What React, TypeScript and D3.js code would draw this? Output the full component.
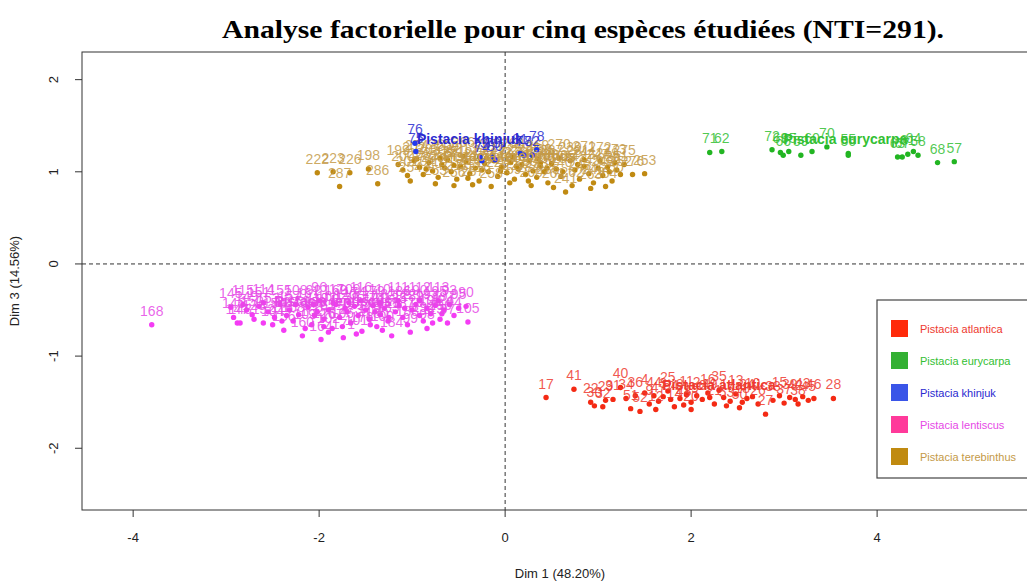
import React from 'react';
import * as d3 from 'd3';

type P = [number, number, number]; // [label, dim1, dim3]

const titleText = 'Analyse factorielle pour cinq espèces étudiées (NTI=291).';
const xTitle = 'Dim 1 (48.20%)';
const yTitle = 'Dim 3 (14.56%)';
const xTicks = [-4, -2, 0, 2, 4];
const yTicks = [-2, -1, 0, 1, 2];
const xDomain = [-4.55, 5.73];
const yDomain = [-2.67, 2.3];

const speciesNames = ['Pistacia atlantica', 'Pistacia eurycarpa', 'Pistacia khinjuk', 'Pistacia lentiscus', 'Pistacia terebinthus'];
const centroids: [number, number][] = [[2.3, -1.47], [3.66, 1.2], [-0.38, 1.2], [-1.85, -0.55], [0.05, 1.02]];

const atlantica: P[] = [
  [17, 0.44, -1.45], [41, 0.74, -1.36], [22, 0.92, -1.5], [30, 0.96, -1.54], [29, 1.08, -1.48], [31, 1.16, -1.47],
  [34, 1.3, -1.46], [36, 1.4, -1.43], [40, 1.24, -1.34], [4, 1.5, -1.4], [9, 1.55, -1.52], [12, 1.62, -1.58],
  [3, 1.7, -1.44], [25, 1.75, -1.38], [14, 1.82, -1.55], [8, 1.88, -1.46], [11, 1.95, -1.42], [19, 2.0, -1.5],
  [2, 2.06, -1.43], [35, 2.3, -1.37], [6, 2.12, -1.47], [16, 2.18, -1.4], [21, 2.25, -1.52], [1, 2.35, -1.45],
  [7, 2.42, -1.49], [13, 2.48, -1.41], [18, 2.55, -1.5], [24, 2.6, -1.46], [10, 2.66, -1.44], [27, 2.8, -1.63],
  [26, 2.72, -1.52], [33, 2.88, -1.48], [15, 2.95, -1.43], [37, 3.0, -1.51], [39, 3.06, -1.45], [42, 3.12, -1.47],
  [43, 3.2, -1.44], [45, 3.26, -1.48], [46, 3.32, -1.46], [28, 3.53, -1.46], [47, 1.65, -1.49], [48, 1.92, -1.53],
  [49, 2.2, -1.45], [50, 2.52, -1.56], [51, 1.35, -1.57], [52, 1.45, -1.6], [53, 2.38, -1.54], [54, 1.78, -1.47],
  [32, 1.05, -1.55], [38, 3.15, -1.52], [20, 2.0, -1.58], [44, 1.6, -1.43],
];

const eurycarpa: P[] = [
  [71, 2.2, 1.21], [62, 2.33, 1.22], [72, 2.87, 1.24], [69, 2.96, 1.21], [66, 2.99, 1.18], [65, 3.05, 1.22],
  [59, 3.18, 1.18], [60, 3.3, 1.22], [70, 3.46, 1.27], [55, 3.69, 1.2], [56, 3.69, 1.18], [63, 4.22, 1.16],
  [67, 4.27, 1.16], [61, 4.33, 1.19], [64, 4.39, 1.22], [58, 4.44, 1.18], [68, 4.65, 1.1], [57, 4.83, 1.11],
];

const khinjuk: P[] = [
  [76, -0.97, 1.31], [75, -0.96, 1.22], [73, -0.27, 1.16], [74, -0.25, 1.12], [79, -0.13, 1.16], [80, -0.11, 1.13],
  [81, 0.16, 1.2], [77, 0.2, 1.18], [82, 0.29, 1.18], [78, 0.34, 1.24],
];

const lentiscus: P[] = [
  [168, -3.8, -0.66], [145, -2.95, -0.47], [146, -2.92, -0.58], [147, -2.88, -0.64], [148, -2.85, -0.64],
  [149, -2.78, -0.5], [150, -2.72, -0.55], [151, -2.65, -0.46], [152, -2.6, -0.64], [153, -2.55, -0.52],
  [154, -2.48, -0.58], [155, -2.42, -0.44], [156, -2.38, -0.72], [157, -2.32, -0.5], [158, -2.28, -0.62],
  [159, -2.22, -0.55], [160, -2.18, -0.78], [161, -2.12, -0.47], [162, -2.08, -0.66], [163, -2.05, -0.56],
  [96, -2.0, -0.4], [92, -2.06, -0.44], [164, -1.98, -0.82], [165, -1.95, -0.6], [166, -1.9, -0.5],
  [167, -1.86, -0.7], [169, -1.82, -0.44], [170, -1.78, -0.58], [171, -1.74, -0.8], [172, -1.7, -0.52],
  [173, -1.66, -0.64], [174, -1.62, -0.46], [175, -1.58, -0.56], [176, -1.54, -0.73], [177, -1.5, -0.5],
  [178, -1.46, -0.6], [179, -1.42, -0.45], [180, -1.38, -0.68], [181, -1.34, -0.55], [182, -1.3, -0.48],
  [183, -1.26, -0.62], [184, -1.22, -0.78], [185, -1.18, -0.52], [186, -1.14, -0.45], [187, -1.1, -0.58],
  [188, -1.05, -0.66], [189, -1.0, -0.5], [190, -0.96, -0.44], [191, -0.92, -0.56], [192, -0.88, -0.62],
  [193, -0.84, -0.48], [194, -0.8, -0.54], [195, -0.75, -0.45], [196, -0.7, -0.6], [197, -0.66, -0.5],
  [93, -0.6, -0.44], [94, -0.55, -0.56], [95, -0.5, -0.48], [90, -0.42, -0.46], [105, -0.4, -0.63],
  [97, -0.62, -0.64], [98, -0.84, -0.7], [99, -1.02, -0.74], [100, -1.32, -0.72], [101, -1.6, -0.76],
  [102, -1.9, -0.74], [103, -2.15, -0.7], [104, -2.5, -0.66], [106, -1.75, -0.68], [107, -1.45, -0.66],
  [108, -2.25, -0.44], [109, -1.68, -0.42], [110, -1.35, -0.42], [111, -1.15, -0.4], [112, -0.92, -0.4],
  [113, -0.72, -0.4], [114, -2.6, -0.42], [115, -2.82, -0.44], [116, -1.55, -0.4], [117, -1.85, -0.42],
  [118, -2.4, -0.62], [119, -2.02, -0.52], [120, -1.72, -0.48], [121, -1.4, -0.52], [122, -1.08, -0.48],
  [123, -0.78, -0.64], [124, -0.68, -0.54], [125, -1.25, -0.58], [126, -1.95, -0.68], [127, -2.35, -0.56],
  [128, -2.7, -0.6],
];

const terebinthus: P[] = [
  [222, -2.02, 0.99], [223, -1.85, 1.0], [226, -1.67, 0.99], [198, -1.47, 1.03], [287, -1.78, 0.84], [286, -1.37, 0.87],
  [199, -1.15, 1.08], [200, -1.1, 1.02], [201, -1.05, 0.96], [202, -0.98, 1.12], [203, -0.92, 1.05], [204, -0.88, 0.97],
  [205, -0.82, 1.1], [206, -0.78, 1.01], [207, -0.72, 0.94], [208, -0.68, 1.08], [209, -0.62, 1.13], [210, -0.58, 1.0],
  [211, -0.52, 0.92], [212, -0.48, 1.06], [213, -0.42, 1.11], [214, -0.38, 0.98], [215, -0.32, 1.04], [216, -0.28, 0.9],
  [217, -0.22, 1.09], [218, -0.18, 1.0], [219, -0.12, 1.12], [220, -0.08, 0.95], [221, -0.04, 1.05], [224, 0.02, 0.99],
  [225, 0.06, 1.1], [227, 0.1, 0.92], [228, 0.14, 1.03], [229, 0.18, 1.08], [230, 0.22, 0.97], [231, 0.26, 1.12],
  [232, 0.3, 1.01], [233, 0.34, 0.94], [234, 0.38, 1.06], [235, 0.42, 1.0], [236, 0.46, 0.88], [237, 0.5, 1.09],
  [238, 0.55, 1.03], [239, 0.7, 1.12], [240, 0.6, 0.95], [241, 0.65, 0.78], [242, 0.75, 1.02], [243, 0.8, 0.92],
  [244, 0.85, 1.06], [245, 0.9, 0.98], [246, 0.95, 0.88], [247, 1.0, 1.04], [248, 1.05, 0.96], [249, 1.1, 1.05],
  [250, 1.15, 0.9], [251, 1.2, 1.02], [252, 1.24, 0.97], [276, 1.37, 0.97], [253, 1.5, 0.98],
  [254, -1.02, 0.9], [255, -0.75, 0.87], [256, -0.55, 0.85], [257, -0.35, 0.86], [258, -0.15, 0.84], [259, 0.05, 0.88],
  [260, 0.28, 0.85], [261, 0.52, 0.83], [262, 0.72, 0.85], [263, 0.92, 0.82], [264, 1.08, 0.84],
  [265, -0.7, 1.15], [266, -0.45, 1.17], [267, -0.2, 1.15], [268, 0.08, 1.16], [269, 0.35, 1.14], [270, 0.58, 1.15],
  [271, 0.85, 1.13], [272, 1.02, 1.12], [273, 1.18, 1.1], [274, -0.95, 1.14], [275, 1.28, 1.08],
  [277, -0.65, 1.04], [278, -0.25, 1.02], [279, 0.12, 1.06], [280, 0.45, 1.04], [281, 0.78, 1.08], [282, -0.85, 1.03],
  [283, -0.4, 0.93], [284, 0.25, 0.9], [285, 0.62, 1.0], [288, 1.12, 1.0], [289, -0.05, 1.01], [290, 0.38, 1.1],
  [291, -0.55, 1.07],
];

const seriesData = [atlantica, eurycarpa, khinjuk, lentiscus, terebinthus];
const pointColors = ['#F42A14', '#22B522', '#2238EE', '#F43CF4', '#C08A12'];
const textColors = ['#EE3A30', '#33C033', '#2A2AD0', '#E648E6', '#C49A48'];
const legendSquares = ['#FF2A0A', '#33B033', '#3A55E8', '#FF3A9A', '#C08A10'];
const drawOrder = [4, 3, 0, 1, 2];

const W = 1027;
const H = 583;
const L = 82, R = 1038, T = 52, B = 510;

export default function App() {
  const x = d3.scaleLinear().domain(xDomain).range([L, R]);
  const y = d3.scaleLinear().domain(yDomain).range([B, T]);
  const font = 'Liberation Sans, Arial, sans-serif';

  return (
    <svg width={W} height={H} style={{ position: 'absolute', left: 0, top: 0, background: '#fff' }}
      xmlns="http://www.w3.org/2000/svg">
      <defs>
        <clipPath id="plotclip"><rect x={L} y={T} width={R - L} height={B - T} /></clipPath>
      </defs>
      <rect x={0} y={0} width={W} height={H} fill="#fff" />
      <text x={583} y={38} textAnchor="middle" fontFamily="Liberation Serif, Times New Roman, serif"
        fontWeight="bold" fontSize={25} textLength={722} lengthAdjust="spacingAndGlyphs" fill="#000">{titleText}</text>

      <g clipPath="url(#plotclip)">
        <line x1={x(0)} x2={x(0)} y1={T} y2={B} stroke="#333" strokeDasharray="4,3" strokeWidth={1} />
        <line x1={L} x2={R} y1={y(0)} y2={y(0)} stroke="#333" strokeDasharray="4,3" strokeWidth={1} />
        {drawOrder.map((gi) => (
          <g key={gi}>
            {seriesData[gi].map((p, i) => (
              <circle key={'c' + i} cx={x(p[1])} cy={y(p[2])} r={2.7} fill={pointColors[gi]} />
            ))}
            {seriesData[gi].map((p, i) => (
              <text key={'t' + i} x={x(p[1])} y={y(p[2]) - 9} textAnchor="middle" fontFamily={font}
                fontSize={14} fill={textColors[gi]} fillOpacity={0.85}>{p[0]}</text>
            ))}
          </g>
        ))}
        {drawOrder.map((gi) => (
          <text key={'cen' + gi} x={x(centroids[gi][0])} y={y(centroids[gi][1]) - 9} textAnchor="middle"
            fontFamily={font} fontSize={14} fontWeight="bold" fill={textColors[gi]}>{speciesNames[gi]}</text>
        ))}
      </g>

      <rect x={L} y={T} width={R - L} height={B - T} fill="none" stroke="#333" strokeWidth={1} />

      {xTicks.map((t) => (
        <g key={'xt' + t}>
          <line x1={x(t)} x2={x(t)} y1={B} y2={B + 7} stroke="#333" />
          <text x={x(t)} y={B + 32} textAnchor="middle" fontFamily={font} fontSize={13} fill="#222">{t}</text>
        </g>
      ))}
      {yTicks.map((t) => (
        <g key={'yt' + t}>
          <line x1={L} x2={L - 7} y1={y(t)} y2={y(t)} stroke="#333" />
          <text transform={`translate(${L - 24},${y(t)}) rotate(-90)`} textAnchor="middle" fontFamily={font}
            fontSize={13} fill="#222">{t}</text>
        </g>
      ))}
      <text x={(L + R) / 2} y={578} textAnchor="middle" fontFamily={font} fontSize={13} fill="#222">{xTitle}</text>
      <text transform={`translate(19,${(T + B) / 2}) rotate(-90)`} textAnchor="middle" fontFamily={font}
        fontSize={13} fill="#222">{yTitle}</text>

      <rect x={877} y={300} width={180} height={178} fill="#fff" stroke="#444" strokeWidth={1.2} />
      {speciesNames.map((n, i) => (
        <g key={'lg' + i}>
          <rect x={891} y={320 + i * 32} width={17} height={17} fill={legendSquares[i]} />
          <text x={920} y={333 + i * 32} fontFamily={font} fontSize={11} fill={textColors[i]}>{n}</text>
        </g>
      ))}
    </svg>
  );
}
